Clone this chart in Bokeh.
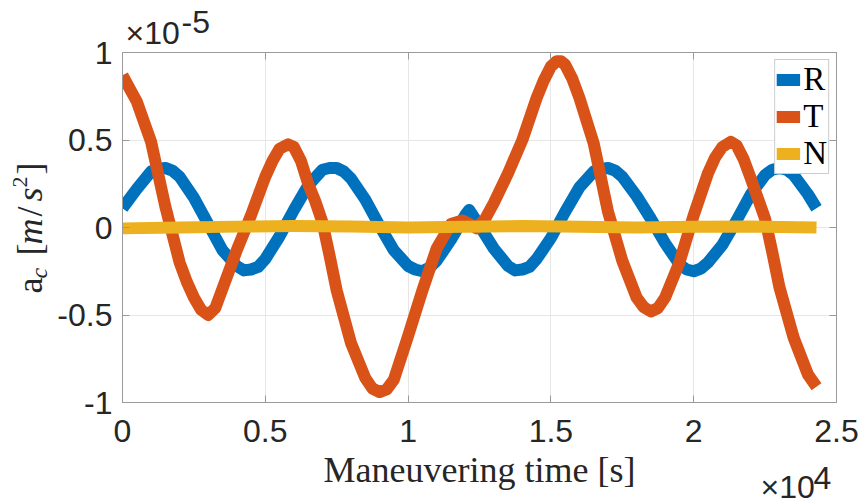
import math
from bokeh.plotting import figure
from bokeh.models import (Range1d, LinearAxis, FixedTicker, Legend,
                          LegendItem, CustomJSTickFormatter, ColumnDataSource)
from bokeh.core.properties import value
from bokeh.embed import file_html
from bokeh.resources import INLINE

# Time in units of 1e4 s, accelerations in units of 1e-5 m/s^2
t_R = [0.00, 0.05, 0.10, 0.125, 0.15, 0.175, 0.20, 0.25, 0.30, 0.35, 0.40, 0.425,
       0.45, 0.475, 0.50, 0.55, 0.60, 0.65, 0.70, 0.725, 0.75, 0.775, 0.80, 0.85,
       0.90, 0.95, 1.00, 1.025, 1.05, 1.075, 1.10, 1.15, 1.20, 1.214, 1.25, 1.30,
       1.35, 1.375, 1.40, 1.425, 1.45, 1.50, 1.55, 1.60, 1.65, 1.675, 1.70, 1.725,
       1.75, 1.80, 1.85, 1.90, 1.95, 1.975, 2.00, 2.025, 2.05, 2.10, 2.15, 2.20,
       2.25, 2.275, 2.30, 2.325, 2.35, 2.40, 2.43]
acc_R = [0.11, 0.22, 0.32, 0.335, 0.34, 0.325, 0.29, 0.17, 0.02, -0.13, -0.22, -0.245,
         -0.24, -0.225, -0.18, -0.05, 0.10, 0.24, 0.33, 0.34, 0.34, 0.32, 0.28, 0.16,
         0.01, -0.13, -0.22, -0.24, -0.25, -0.23, -0.19, -0.07, 0.07, 0.10, 0.01, -0.12,
         -0.22, -0.245, -0.24, -0.225, -0.18, -0.06, 0.09, 0.23, 0.32, 0.335, 0.34, 0.325,
         0.29, 0.18, 0.05, -0.09, -0.21, -0.24, -0.25, -0.235, -0.20, -0.10, 0.04, 0.19,
         0.30, 0.33, 0.34, 0.33, 0.30, 0.19, 0.11]

t_T = [0.00, 0.05, 0.10, 0.15, 0.20, 0.225, 0.25, 0.275, 0.30, 0.325, 0.35, 0.40,
       0.45, 0.50, 0.525, 0.55, 0.58, 0.60, 0.625, 0.65, 0.675, 0.70, 0.725, 0.75,
       0.80, 0.85, 0.875, 0.90, 0.925, 0.95, 1.00, 1.05, 1.10, 1.15, 1.19, 1.21,
       1.24, 1.27, 1.30, 1.35, 1.40, 1.45, 1.475, 1.50, 1.52, 1.535, 1.55, 1.575,
       1.60, 1.65, 1.70, 1.75, 1.80, 1.825, 1.85, 1.875, 1.90, 1.95, 2.00, 2.05,
       2.075, 2.10, 2.13, 2.15, 2.175, 2.20, 2.25, 2.275, 2.30, 2.35, 2.40, 2.43]
acc_T = [0.87, 0.72, 0.49, 0.12, -0.20, -0.31, -0.40, -0.47, -0.50, -0.46, -0.35, -0.13,
         0.07, 0.29, 0.38, 0.45, 0.475, 0.46, 0.38, 0.25, 0.15, 0.03, -0.16, -0.36,
         -0.66, -0.86, -0.92, -0.94, -0.925, -0.87, -0.62, -0.36, -0.12, 0.02, 0.04, 0.025,
         -0.005, 0.05, 0.14, 0.31, 0.50, 0.74, 0.84, 0.92, 0.95, 0.95, 0.93, 0.85,
         0.74, 0.48, 0.09, -0.19, -0.40, -0.455, -0.48, -0.46, -0.40, -0.20, 0.07, 0.31,
         0.40, 0.46, 0.49, 0.47, 0.39, 0.28, 0.05, -0.14, -0.34, -0.63, -0.84, -0.91]

t_N = [0.0, 0.2, 0.4, 0.6, 0.8, 1.0, 1.2, 1.4, 1.6, 1.8, 2.0, 2.2, 2.43]
acc_N = [-0.005, 0.0, 0.005, 0.008, 0.006, 0.0, 0.004, 0.008, 0.004, 0.0, 0.004, 0.006, 0.0]

x_ticks = [0, 0.5, 1, 1.5, 2, 2.5]
y_ticks = [-1, -0.5, 0, 0.5, 1]

BLUE, ORANGE, YELLOW = "#0072BD", "#D95319", "#EDB120"
AXIS_GRAY = "#9a9a9a"
TEXT = "#262626"
SANS = "Liberation Sans"
SERIF = "Liberation Serif"

p = figure(width=862, height=504, output_backend="svg", toolbar_location=None,
           x_range=Range1d(0, 2.5), y_range=Range1d(-1, 1),
           min_border_left=122, min_border_right=26,
           min_border_top=52, min_border_bottom=102)
p.outline_line_color = None
p.background_fill_color = "white"
p.border_fill_color = "white"

fmt = CustomJSTickFormatter(code="return tick.toString();")
blank = CustomJSTickFormatter(code="return '';")


def style_axis(ax, ticks, show_labels):
    ax.ticker = FixedTicker(ticks=ticks)
    ax.major_tick_in = 7
    ax.major_tick_out = 0
    ax.minor_tick_in = 0
    ax.minor_tick_out = 0
    ax.axis_line_color = AXIS_GRAY
    ax.major_tick_line_color = AXIS_GRAY
    ax.minor_tick_line_color = None
    if show_labels:
        ax.formatter = fmt
        ax.major_label_text_font = SANS
        ax.major_label_text_font_size = "32px"
        ax.major_label_text_color = TEXT
    else:
        ax.formatter = blank
        ax.major_label_text_font_size = "0px"
        ax.major_label_standoff = 0


bottom_ax = p.xaxis[0]
left_ax = p.yaxis[0]
style_axis(bottom_ax, x_ticks, True)
style_axis(left_ax, y_ticks, True)
bottom_ax.major_label_standoff = 17
left_ax.major_label_standoff = 10

top_ax = LinearAxis()
style_axis(top_ax, x_ticks, False)
p.add_layout(top_ax, "above")
right_ax = LinearAxis()
style_axis(right_ax, y_ticks, False)
p.add_layout(right_ax, "right")

p.xgrid.ticker = FixedTicker(ticks=x_ticks)
p.ygrid.ticker = FixedTicker(ticks=y_ticks)
p.xgrid.grid_line_color = "#e6e6e6"
p.ygrid.grid_line_color = "#e6e6e6"

bottom_ax.axis_label = "Maneuvering time [s]"
bottom_ax.axis_label_text_font = SERIF
bottom_ax.axis_label_text_font_style = "normal"
bottom_ax.axis_label_text_font_size = "36px"
bottom_ax.axis_label_text_color = TEXT
bottom_ax.axis_label_standoff = 5

lw = 12
r_line = p.line(t_R, acc_R, line_width=lw, line_color=BLUE, line_cap="butt", line_join="round")
t_line = p.line(t_T, acc_T, line_width=lw, line_color=ORANGE, line_cap="butt", line_join="round")
n_line = p.line(t_N, acc_N, line_width=lw, line_color=YELLOW, line_cap="butt", line_join="round")

legend = Legend(items=[LegendItem(label="R", renderers=[r_line]),
                       LegendItem(label="T", renderers=[t_line]),
                       LegendItem(label="N", renderers=[n_line])],
                location="top_right", margin=7, padding=1, spacing=-1,
                glyph_width=24, glyph_height=35, label_height=35, label_standoff=3,
                label_width=10,
                label_text_font=SERIF, label_text_font_size="33px",
                label_text_color="black", border_line_color=AXIS_GRAY,
                background_fill_color="white", background_fill_alpha=1.0)
p.add_layout(legend)


def add_text(text, anchor, dx, dy, size, font=SERIF, style="normal", angle=0.0):
    """Text pinned to a frame corner/edge point, shifted by dx, dy screen pixels."""
    src = ColumnDataSource(dict(x=[anchor[0]], y=[anchor[1]], text=[text]))
    p.text(x="x", y="y", text="text", source=src, x_offset=dx, y_offset=dy,
           angle=angle, text_font=value(font), text_font_style=value(style),
           text_font_size=value(size), text_color=TEXT,
           text_align=value("left"), text_baseline=value("middle"),
           level="overlay")


# Axis exponent labels
top_left = (0, 1)
bottom_right = (2.5, -1)
add_text("\u00d710", top_left, 3, -20, "32px", SANS)
add_text("-5", top_left, 59, -31, "32px", SANS)
add_text("\u00d710", bottom_right, -76, 84, "32px", SANS)
add_text("4", bottom_right, -23, 75, "32px", SANS)

# Rotated y-axis label: a_c [m/s^2], pinned to the left edge at y = 0
mid_left = (0, 0)
up = math.pi / 2
add_text("a", mid_left, -93, 66, "36px", SERIF, "normal", up)
add_text("c", mid_left, -84, 51, "24px", SERIF, "italic", up)
add_text("[", mid_left, -93, 28, "36px", SERIF, "normal", up)
add_text("m", mid_left, -93, 17, "36px", SERIF, "italic", up)
add_text("/", mid_left, -93, -11, "36px", SERIF, "normal", up)
add_text("s", mid_left, -93, -26, "36px", SERIF, "italic", up)
add_text("2", mid_left, -103, -40, "22px", SERIF, "normal", up)
add_text("]", mid_left, -93, -53, "36px", SERIF, "normal", up)

open("out.html", "w").write(file_html(p, INLINE))
